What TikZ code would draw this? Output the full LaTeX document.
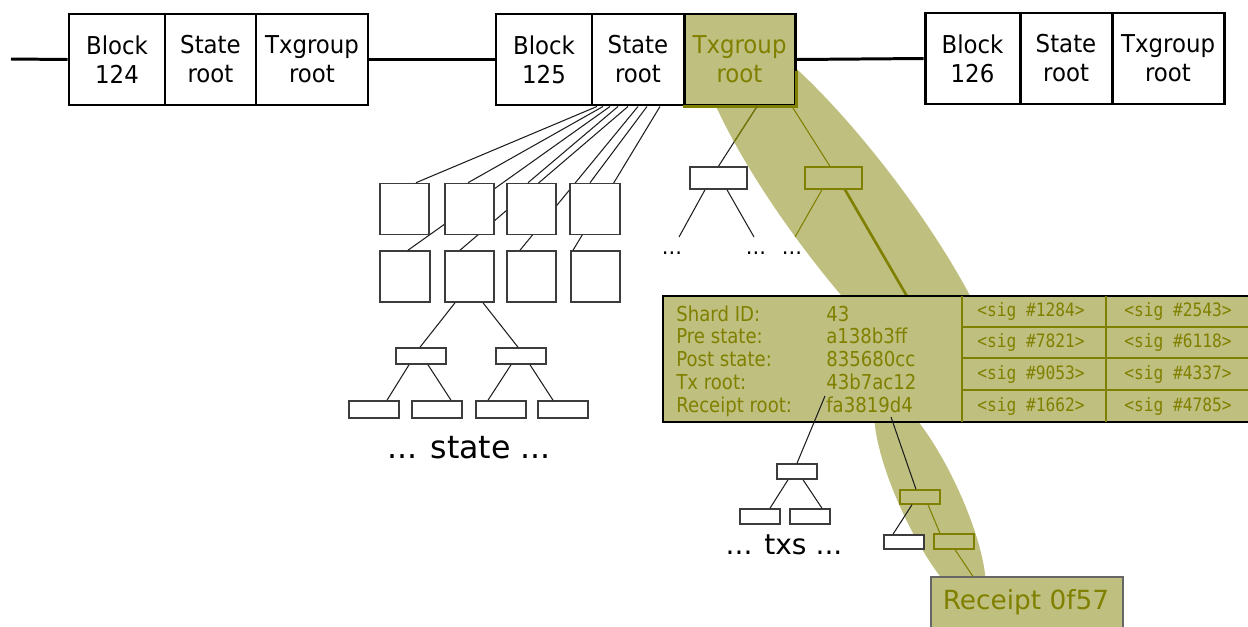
\documentclass[tikz,border=0pt]{standalone}
\usepackage{fontspec}
\setmainfont{DejaVu Sans}
\setmonofont{DejaVu Sans Mono}
\newfontfamily\condsans[FakeStretch=0.88]{DejaVu Sans}
\newfontfamily\blocksans[FakeStretch=0.93]{DejaVu Sans}
\newfontfamily\condmono[FakeStretch=0.88]{DejaVu Sans Mono}
\usetikzlibrary{calc}
\definecolor{bandfill}{RGB}{191,191,128}
\definecolor{oltext}{RGB}{128,128,0}
\definecolor{boxline}{RGB}{60,60,60}
\definecolor{thinline}{RGB}{30,30,30}
\begin{document}
\begin{tikzpicture}[x=0.02cm,y=-0.02cm,
  sz/.style 2 args={minimum width=#1*0.02cm, minimum height=#2*0.02cm},
  cell/.style={draw=black, line width=1.7pt, fill=white, inner sep=0pt, align=center,
    font=\blocksans\fontsize{14}{16.5}\selectfont},
  hicell/.style={cell, fill=bandfill, text=oltext},
  sq/.style={draw=boxline, line width=0.9pt, fill=white, inner sep=0pt},
  hileaf/.style={draw=oltext, line width=0.8pt, fill=bandfill, inner sep=0pt},
  link/.style={draw=thinline, line width=0.6pt},
  hilink/.style={draw=oltext, line width=0.6pt},
  chain/.style={draw=black, line width=1.7pt},
  band/.style={fill=bandfill},
  lbl/.style={text=oltext, font=\condsans\fontsize{11.7}{13}\selectfont, anchor=base west, inner sep=0pt},
  sig/.style={text=oltext, font=\condmono\fontsize{10.5}{12}\selectfont, inner sep=0pt},
  dots/.style={font=\fontsize{12}{14}\selectfont, inner sep=0pt},
]
\useasboundingbox (0,0) rectangle (1248,626);

% highlighted proof paths
\fill[band, rotate around={37:(850,215)}] (850,215) ellipse [x radius=57, y radius=245];
\fill[band, rotate around={25:(930,500)}] (930,500) ellipse [x radius=30, y radius=115];

% chain of blocks
\node[cell, sz={96}{91}]  (b124) at (117,59.5)   {Block\\124};
\node[cell, sz={91}{91}]  (s124) at (210.5,59.5) {State\\root};
\node[cell, sz={112}{91}] (t124) at (312,59.5)   {Txgroup\\root};
\node[cell, sz={96}{91}]  (b125) at (544,59.5)   {Block\\125};
\node[cell, sz={92}{91}]  (s125) at (638,59.5)   {State\\root};
\node[hicell, sz={111}{91}] (t125) at (739.5,59.5) {Txgroup\\root};
\node[cell, sz={95}{91}]  (b126) at (972.5,58.5) {Block\\126};
\node[cell, sz={92}{91}]  (s126) at (1066,58.5)  {State\\root};
\node[cell, sz={112}{91}] (t126) at (1168,58.5)  {Txgroup\\root};
\draw[oltext, line width=1.7pt] (t125.south west) -- (t125.south east)
  -- ($(t125.south east)+(0,-35)$);

\coordinate (lead) at (11,59);
\draw[chain] (lead) -- (b124.west);
\draw[chain] (t124.east) -- (b125.west);
\draw[chain] (t125.east) -- (b126.west);

% state tree
\node[sq, sz={49}{51}] (s11) at (404.5,209) {};
\node[sq, sz={49}{51}] (s12) at (469.5,209) {};
\node[sq, sz={49}{51}] (s13) at (531.5,209) {};
\node[sq, sz={50}{51}] (s14) at (595,209) {};
\node[sq, sz={50}{51}] (s21) at (405,276.5) {};
\node[sq, sz={49}{51}] (s22) at (469.5,276.5) {};
\node[sq, sz={49}{51}] (s23) at (531.5,276.5) {};
\node[sq, sz={49}{51}] (s24) at (595.5,276.5) {};
\draw[link] ($(s125.south)+(-41,0)$) -- ($(s11.north)+(11.5,0)$);
\draw[link] ($(s125.south)+(-35,0)$) -- ($(s12.north)+(-1.5,0)$);
\draw[link] ($(s125.south)+(-28,0)$) -- ($(s21.north)+(3,0)$);
\draw[link] ($(s125.south)+(-20,0)$) -- ($(s13.north)+(-3.5,0)$);
\draw[link] ($(s125.south)+(-10,0)$) -- ($(s22.north)+(-9.5,0)$);
\draw[link] ($(s125.south)+(0,0)$)   -- ($(s23.north)+(-11.5,0)$);
\draw[link] ($(s125.south)+(9,0)$)   -- ($(s14.north)+(-5,0)$);
\draw[link] ($(s125.south)+(22,0)$)  -- ($(s24.north)+(-22.5,0)$);
% upper squares drawn again so the deeper links pass behind them
\node[sq, sz={49}{51}] at (s11) {};
\node[sq, sz={49}{51}] at (s12) {};
\node[sq, sz={49}{51}] at (s13) {};
\node[sq, sz={50}{51}] at (s14) {};

\node[sq, sz={50}{16}] (m1) at (421,356) {};
\node[sq, sz={50}{16}] (m2) at (521,356) {};
\node[sq, sz={50}{17}] (l1) at (374,409.5) {};
\node[sq, sz={50}{17}] (l2) at (437,409.5) {};
\node[sq, sz={50}{17}] (l3) at (501,409.5) {};
\node[sq, sz={50}{17}] (l4) at (563,409.5) {};
\draw[link] ($(s22.south)+(-14.5,0)$) -- ($(m1.north)+(-1,0)$);
\draw[link] ($(s22.south)+(13.5,0)$)  -- ($(m2.north)+(-3,0)$);
\draw[link] ($(m1.south)+(-12,0)$) -- ($(l1.north)+(13,0)$);
\draw[link] ($(m1.south)+(7,0)$)   -- ($(l2.north)+(14,0)$);
\draw[link] ($(m2.south)+(-10,0)$) -- ($(l3.north)+(-13,0)$);
\draw[link] ($(m2.south)+(9,0)$)   -- ($(l4.north)+(-10,0)$);
\node[font=\fontsize{18}{20}\selectfont, inner sep=0pt] (stl) at (469,448) {... state ...};

% transaction group tree
\node[sq, sz={57}{22}] (tL) at (718.5,178) {};
\node[hileaf, sz={57}{22}] (tR) at (833.5,178) {};
\draw[link] ($(t125.south)+(17.5,0)$) -- (tL.north);
\begin{scope}
  \clip[rotate around={37:(850,215)}] (850,215) ellipse [x radius=57, y radius=245];
  \draw[hilink] ($(t125.south)+(17.5,0)$) -- (tL.north);
\end{scope}
\draw[hilink] ($(t125.south)+(52.5,0)$) -- ($(tR.north)+(-3.5,0)$);
\coordinate (e1) at (679,237);
\coordinate (e2) at (754,237);
\coordinate (e3) at (795,237);
\draw[link] ($(tL.south)+(-13.5,0)$) -- (e1);
\draw[link] ($(tL.south)+(8.5,0)$) -- (e2);
\draw[hilink] ($(tR.south)+(-11.5,0)$) -- (e3);
\node[dots] (dt1) at (672,253) {...};
\node[dots] (dt2) at (756,253) {...};
\node[dots] (dt3) at (792,253) {...};

% shard header
\node[fill=bandfill, inner sep=0pt, sz={585}{126}] (BB) at (955.5,359) {};
\draw[oltext, line width=1.5pt] ($(tR.south)+(11.5,0)$) -- ($(BB.north west)+(244,0)$);
\draw[black, line width=1.1pt] (BB.north east) -- (BB.north west) -- (BB.south west) -- (BB.south east);
\draw[oltext, line width=0.6pt] (962,296) -- (962,422) (1106,296) -- (1106,422)
  (962,327) -- (1248,327) (962,358) -- (1248,358) (962,390) -- (1248,390);
\node[lbl] (k1) at (676,321) {Shard ID:};
\node[lbl] (k2) at (676,343.5) {Pre state:};
\node[lbl] (k3) at (676,366) {Post state:};
\node[lbl] (k4) at (676,389) {Tx root:};
\node[lbl] (k5) at (676,412) {Receipt root:};
\node[lbl] (v1) at (826,321) {43};
\node[lbl] (v2) at (826,343.5) {a138b3ff};
\node[lbl] (v3) at (826,366) {835680cc};
\node[lbl] (v4) at (826,389) {43b7ac12};
\node[lbl] (v5) at (826,412) {fa3819d4};
\node[sig] (g1) at (1031,311.5) {<sig \#1284>};
\node[sig] (g2) at (1178,311.5) {<sig \#2543>};
\node[sig] (g3) at (1031,342.5) {<sig \#7821>};
\node[sig] (g4) at (1178,342.5) {<sig \#6118>};
\node[sig] (g5) at (1031,374) {<sig \#9053>};
\node[sig] (g6) at (1178,374) {<sig \#4337>};
\node[sig] (g7) at (1031,406) {<sig \#1662>};
\node[sig] (g8) at (1178,406) {<sig \#4785>};

% transaction tree
\coordinate (txA) at (825,396);
\node[sq, sz={40}{15}] (tm) at (797,471.5) {};
\node[sq, sz={40}{15}] (tl1) at (760,516.5) {};
\node[sq, sz={40}{15}] (tl2) at (810,516.5) {};
\draw[link] (txA) -- (tm.north);
\draw[link] ($(tm.south)+(-9,0)$) -- ($(tl1.north)+(10,0)$);
\draw[link] ($(tm.south)+(6,0)$) -- ($(tl2.north)+(12,0)$);
\node[font=\fontsize{16}{18}\selectfont, inner sep=0pt] (txl) at (784,545) {... txs ...};

% receipt tree
\coordinate (rcA) at (891,417);
\node[hileaf, sz={40}{14}] (rm) at (920,497) {};
\node[sq, sz={40}{14}] (rl) at (904,542) {};
\node[hileaf, sz={40}{15}] (rr) at (954,541.5) {};
\draw[link] (rcA) -- ($(rm.north)+(-4,0)$);
\draw[link] ($(rm.south)+(-8,0)$) -- ($(rl.north)+(-11,0)$);
\draw[hilink] ($(rm.south)+(8,0)$) -- ($(rr.north)+(-14,0)$);
\node[fill=bandfill, draw=black!60, line width=0.6pt, inner sep=0pt, sz={192}{62}] (RB) at (1027,608) {};
\draw[hilink] ($(rr.south)+(1,0)$) -- ($(RB.north)+(-54,0)$);
\node[text=oltext, font=\fontsize{15}{18}\selectfont, inner sep=0pt] (rtxt) at (1026,602) {Receipt 0f57};
\end{tikzpicture}
\end{document}
